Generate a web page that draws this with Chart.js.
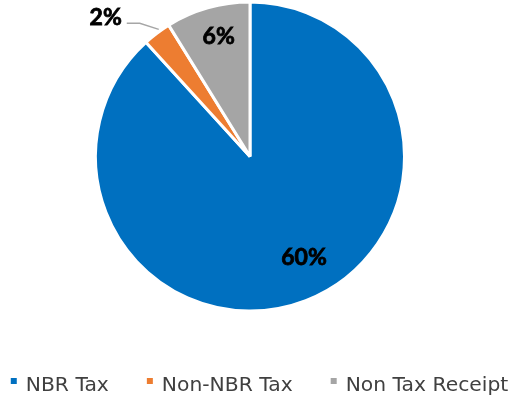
<!DOCTYPE html>
<html>
<head>
<meta charset="utf-8">
<script src="https://cdn.jsdelivr.net/npm/chart.js@4"></script>
<style>
  body { margin: 0; background: #fff; }
  #revenueChart { display: block; }
</style>
</head>
<body>
<canvas id="revenueChart" width="510" height="398"></canvas>
<script>
const sources = ['NBR Tax', 'Non-NBR Tax', 'Non Tax Receipt'];
const shares = [60, 2, 6];
const sliceColors = ['#0070C0', '#ED7D31', '#A5A5A5'];

// where each percent label goes: fraction of the radius and a small turn (degrees) off the slice middle
const labelSpots = [
  { r: 0.74, turn: -7 },
  { outside: true, turn: 1.4 },
  { r: 0.80, turn: 1.2 }
];

// heavy black text: bold face plus a thin outline in the same colour
function heavyText(ctx, text, x, y) {
  ctx.fillText(text, x, y);
  ctx.strokeText(text, x, y);
}

const pctLabels = {
  id: 'pctLabels',
  afterDatasetsDraw(chart) {
    const ctx = chart.ctx;
    const meta = chart.getDatasetMeta(0);
    meta.data.forEach((arc, i) => {
      const p = arc.getProps(['x', 'y', 'startAngle', 'endAngle', 'outerRadius'], true);
      const spot = labelSpots[i];
      const mid = (p.startAngle + p.endAngle) / 2 + spot.turn * Math.PI / 180;
      const text = shares[i] + '%';
      ctx.save();
      ctx.font = 'bold 23px Lato';
      ctx.textBaseline = 'middle';
      if (spot.outside) {
        const ex = p.x + Math.cos(mid) * (p.outerRadius + 2);
        const ey = p.y + Math.sin(mid) * (p.outerRadius + 2);
        ctx.strokeStyle = '#A6A6A6';
        ctx.lineWidth = 1.5;
        ctx.beginPath();
        ctx.moveTo(ex, ey);
        ctx.lineTo(ex - 19, ey - 6);
        ctx.lineTo(ex - 32, ey - 6);
        ctx.stroke();
        ctx.fillStyle = ctx.strokeStyle = '#000';
        ctx.lineWidth = 0.8;
        ctx.textAlign = 'right';
        heavyText(ctx, text, ex - 37, ey - 12);
      } else {
        const d = p.outerRadius * spot.r;
        ctx.fillStyle = ctx.strokeStyle = '#000';
        ctx.lineWidth = 0.8;
        ctx.textAlign = 'center';
        heavyText(ctx, text, p.x + Math.cos(mid) * d, p.y + Math.sin(mid) * d);
      }
      ctx.restore();
    });
  }
};

// one-row legend under the pie, wider item spacing than the built-in legend allows
const rowLegend = {
  id: 'rowLegend',
  afterDraw(chart) {
    const ctx = chart.ctx;
    const box = 7, gap = 8, itemGap = 38;
    ctx.save();
    ctx.font = '20.3px "DejaVu Sans"';
    ctx.textBaseline = 'alphabetic';
    const widths = sources.map(s => box + gap + ctx.measureText(s).width);
    const total = widths.reduce((a, b) => a + b, 0) + itemGap * (sources.length - 1);
    let x = 259.5 - total / 2;
    const baseY = 391;
    sources.forEach((s, i) => {
      ctx.fillStyle = sliceColors[i];
      ctx.fillRect(x, baseY - 13, box - 1, box - 1);
      ctx.fillStyle = '#404040';
      ctx.fillText(s, x + box + gap, baseY);
      x += widths[i] + itemGap;
    });
    ctx.restore();
  }
};

new Chart(document.getElementById('revenueChart'), {
  type: 'pie',
  data: {
    labels: sources,
    datasets: [{
      data: shares,
      backgroundColor: sliceColors,
      borderColor: '#fff',
      borderWidth: 3
    }]
  },
  options: {
    responsive: false,
    animation: false,
    radius: 154.5,
    layout: { padding: { left: 0, right: 10, top: 0, bottom: 85 } },
    plugins: {
      tooltip: { enabled: false },
      legend: { display: false }
    }
  },
  plugins: [pctLabels, rowLegend]
});
</script>
</body>
</html>
